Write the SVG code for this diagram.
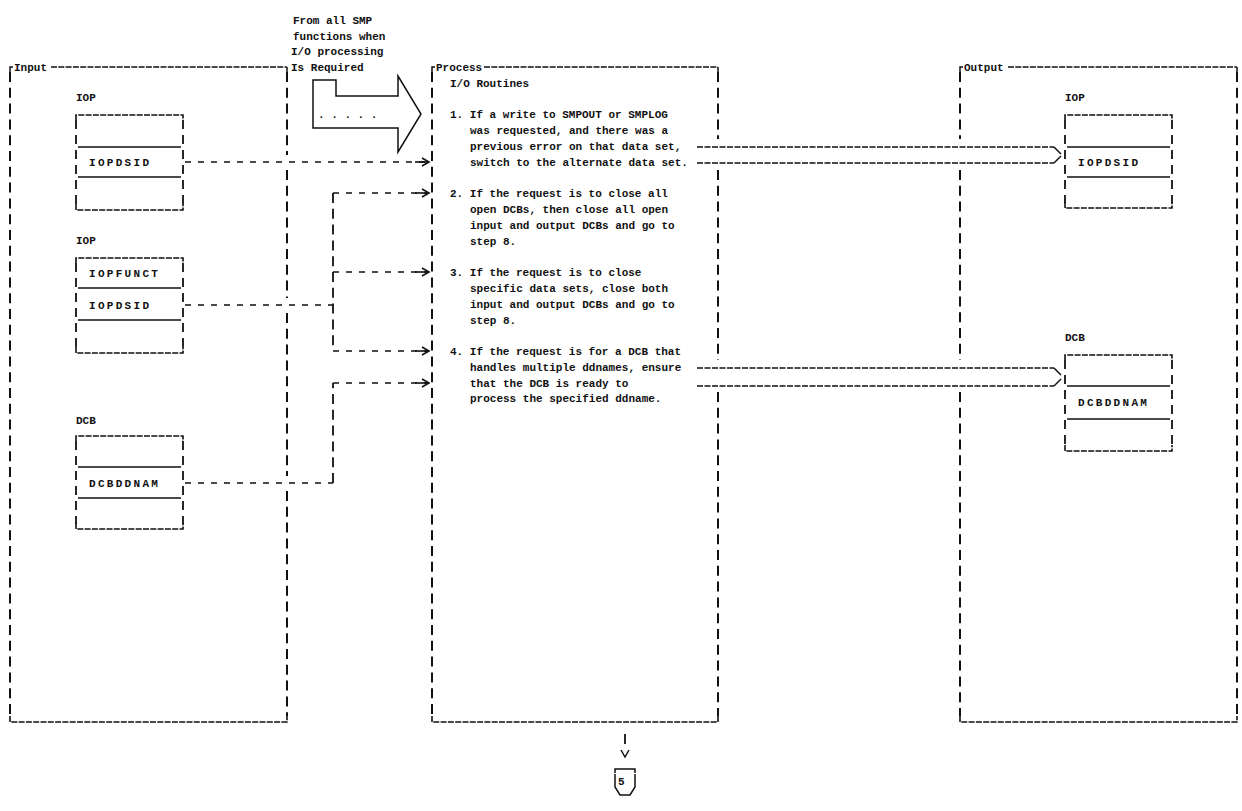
<svg xmlns="http://www.w3.org/2000/svg" width="1242" height="811" viewBox="0 0 1242 811">
<style>
.t{font-family:"Liberation Mono","DejaVu Sans Mono",monospace;font-weight:bold;font-size:11px;fill:#111}
.bt{letter-spacing:2.3px}
.fv{stroke:#111;stroke-width:2;stroke-dasharray:10 5.8;fill:none}
.fh{stroke:#111;stroke-width:1.6;stroke-dasharray:6 1.3;fill:none}
.bv{stroke:#111;stroke-width:1.8;stroke-dasharray:9 6;fill:none}
.sd{stroke:#111;stroke-width:1.5;fill:none}
.cn{stroke:#111;stroke-width:1.6;stroke-dasharray:6 7;fill:none}
.cv{stroke:#111;stroke-width:1.8;stroke-dasharray:10 5.8;fill:none}
.ol{stroke:#111;stroke-width:1.4;stroke-dasharray:6 1.5;fill:none}
</style>
<defs>
<marker id="ah" markerUnits="userSpaceOnUse" markerWidth="20" markerHeight="12" refX="7" refY="4" orient="auto" overflow="visible">
<path d="M-7,4 H6" stroke="#111" stroke-width="1.6" fill="none"/>
<path d="M0,0 L7,4 L0,8" stroke="#111" stroke-width="1.6" fill="none"/>
</marker>
</defs>
<rect width="1242" height="811" fill="#fff"/>

<g id="header-note">
<text class="t" x="293" y="24">From all SMP</text>
<text class="t" x="293" y="40">functions when</text>
<text class="t" x="291" y="55">I/O processing</text>
<text class="t" x="291" y="71">Is Required</text>
</g>

<g id="input-frame">
<path class="sd" d="M10,72 V67 H13"/>
<text class="t" x="14" y="71">Input</text>
<path class="fh" d="M51,67 H287"/>
<path class="sd" d="M287,67 V72"/>
<path class="fv" d="M10,72 V716"/>
<path class="fv" d="M287,72 V155 M287,170 V298 M287,313 V476 M287,491 V716"/>
<path class="fh" d="M10,716 V722 H287 V716"/>
</g>

<g id="process-frame">
<path class="sd" d="M432,72 V67 H435"/>
<text class="t" x="436" y="71">Process</text>
<path class="fh" d="M484,67 H718"/>
<path class="sd" d="M718,67 V72"/>
<path class="fv" d="M432,72 V716"/>
<path class="fv" d="M718,72 V139 M718,170 V360 M718,392 V716"/>
<path class="fh" d="M432,716 V722 H718 V716"/>
<text class="t" x="450" y="87">I/O Routines</text>
<text class="t" x="450" y="118">1. If a write to SMPOUT or SMPLOG</text>
<text class="t" x="470" y="134">was requested, and there was a</text>
<text class="t" x="470" y="150">previous error on that data set,</text>
<text class="t" x="470" y="166">switch to the alternate data set.</text>
<text class="t" x="450" y="197">2. If the request is to close all</text>
<text class="t" x="470" y="213">open DCBs, then close all open</text>
<text class="t" x="470" y="229">input and output DCBs and go to</text>
<text class="t" x="470" y="245">step 8.</text>
<text class="t" x="450" y="276">3. If the request is to close</text>
<text class="t" x="470" y="292">specific data sets, close both</text>
<text class="t" x="470" y="308">input and output DCBs and go to</text>
<text class="t" x="470" y="324">step 8.</text>
<text class="t" x="450" y="355">4. If the request is for a DCB that</text>
<text class="t" x="470" y="371">handles multiple ddnames, ensure</text>
<text class="t" x="470" y="387">that the DCB is ready to</text>
<text class="t" x="470" y="402">process the specified ddname.</text>
</g>

<g id="output-frame">
<path class="sd" d="M960,72 V67 H963"/>
<text class="t" x="964" y="71">Output</text>
<path class="fh" d="M1008,67 H1237"/>
<path class="sd" d="M1237,67 V72"/>
<path class="fv" d="M960,72 V139 M960,170 V360 M960,392 V716"/>
<path class="fv" d="M1237,72 V716"/>
<path class="fh" d="M960,716 V722 H1237 V716"/>
</g>

<g id="entry-arrow">
<path class="sd" d="M336,96 V80 H313 V128 H398 V152 L421,114 L398,76 V96 Z" stroke-width="1.6"/>
<text class="t" x="318" y="118" xml:space="preserve">. . . . .</text>
</g>

<g id="input-iop1">
<text class="t" x="76" y="101">IOP</text>
<path class="fh" d="M76,120 V115 H183 V120"/>
<path class="bv" d="M76,120 V205 M183,120 V205"/>
<path class="sd" d="M78,147 H181 M78,177 H181"/>
<path class="fh" d="M76,204 V210 H183 V204"/>
<text class="t bt" x="89" y="166">IOPDSID</text>
</g>

<g id="input-iop2">
<text class="t" x="76" y="244">IOP</text>
<path class="fh" d="M76,263 V258 H183 V263"/>
<path class="bv" d="M76,263 V348 M183,263 V348"/>
<path class="sd" d="M78,288 H181 M78,320 H181"/>
<path class="fh" d="M76,347 V353 H183 V347"/>
<text class="t bt" x="89" y="277">IOPFUNCT</text>
<text class="t bt" x="89" y="309">IOPDSID</text>
</g>

<g id="input-dcb">
<text class="t" x="76" y="424">DCB</text>
<path class="fh" d="M76,441 V436 H183 V441"/>
<path class="bv" d="M76,441 V524 M183,441 V524"/>
<path class="sd" d="M78,467 H181 M78,498 H181"/>
<path class="fh" d="M76,523 V529 H183 V523"/>
<text class="t bt" x="89" y="487">DCBDDNAM</text>
</g>

<g id="output-iop">
<text class="t" x="1065" y="101">IOP</text>
<path class="fh" d="M1065,120 V115 H1172 V120"/>
<path class="bv" d="M1065,120 V203 M1172,120 V203"/>
<path class="sd" d="M1067,147 H1170 M1067,177 H1170"/>
<path class="fh" d="M1065,202 V208 H1172 V202"/>
<text class="t bt" x="1078" y="166">IOPDSID</text>
</g>

<g id="output-dcb">
<text class="t" x="1065" y="341">DCB</text>
<path class="fh" d="M1065,360 V355 H1172 V360"/>
<path class="bv" d="M1065,360 V446 M1172,360 V446"/>
<path class="sd" d="M1067,386 H1170 M1067,419 H1170"/>
<path class="fh" d="M1065,445 V451 H1172 V445"/>
<text class="t bt" x="1078" y="406">DCBDDNAM</text>
</g>

<g id="connectors">
<path class="cn" d="M185,162 H429" marker-end="url(#ah)"/>
<path class="cn" d="M185,305 H333"/>
<path class="cv" d="M333,193 V351"/>
<path class="cn" d="M333,193 H429" marker-end="url(#ah)"/>
<path class="cn" d="M333,272 H429" marker-end="url(#ah)"/>
<path class="cn" d="M333,351 H429" marker-end="url(#ah)"/>
<path class="cn" d="M185,483 H333"/>
<path class="cv" d="M333,483 V383"/>
<path class="cn" d="M333,383 H429" marker-end="url(#ah)"/>
<path class="ol" d="M697,147 H1054"/>
<path class="sd" d="M1054,147 L1061,154"/>
<path class="ol" d="M697,163 H1054"/>
<path class="sd" d="M1054,163 L1061,156"/>
<path class="ol" d="M697,368 H1054"/>
<path class="sd" d="M1054,368 L1061,375"/>
<path class="ol" d="M697,386 H1054"/>
<path class="sd" d="M1054,386 L1061,379"/>
<path class="cv" d="M625,734 V746"/>
<path class="sd" d="M621,750 L625,757 L629,750"/>
</g>

<g id="offpage-5">
<path class="sd" d="M615,773 V769 H635 V773"/>
<path class="sd" d="M615,774 V787 L620,795 H630 L635,787 V774"/>
<text class="t" x="618" y="785">5</text>
</g>
</svg>
